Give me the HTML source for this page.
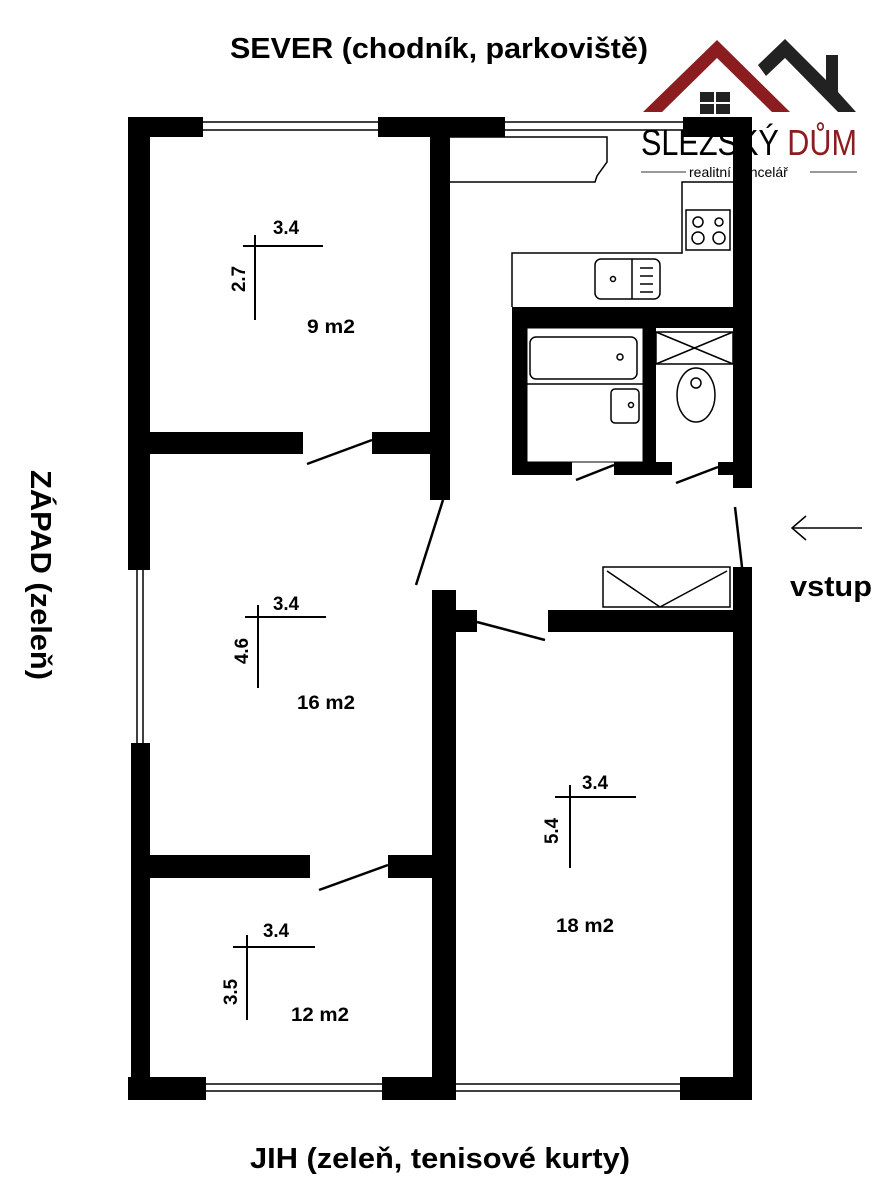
<!DOCTYPE html>
<html><head><meta charset="utf-8"><style>
html,body{margin:0;padding:0;background:#fff}
svg{display:block}
text{font-family:"Liberation Sans",sans-serif;font-weight:bold;fill:#000}
</style></head><body>
<svg width="890" height="1200" viewBox="0 0 890 1200" xmlns="http://www.w3.org/2000/svg">
<rect width="890" height="1200" fill="#fff"/>
<g fill="#000">
<rect x="128" y="117" width="75" height="20"/>
<rect x="378" y="117" width="127" height="20"/>
<rect x="683" y="117" width="69" height="20"/>
<rect x="128" y="117" width="22" height="453"/>
<rect x="131" y="743" width="19" height="357"/>
<rect x="430" y="117" width="20" height="383"/>
<rect x="150" y="432" width="153" height="22"/>
<rect x="372" y="432" width="60" height="22"/>
<rect x="733" y="117" width="19" height="371"/>
<rect x="733" y="567" width="19" height="533"/>
<rect x="512" y="307" width="240" height="21"/>
<rect x="512" y="307" width="15" height="168"/>
<rect x="512" y="462" width="60" height="13"/>
<rect x="614" y="462" width="58" height="13"/>
<rect x="643" y="328" width="13" height="140"/>
<rect x="718" y="462" width="22" height="13"/>
<rect x="432" y="590" width="24" height="510"/>
<rect x="456" y="610" width="21" height="22"/>
<rect x="548" y="610" width="204" height="22"/>
<rect x="150" y="855" width="160" height="23"/>
<rect x="388" y="855" width="44" height="23"/>
<rect x="128" y="1077" width="78" height="23"/>
<rect x="382" y="1077" width="74" height="23"/>
<rect x="680" y="1077" width="72" height="23"/>
</g>
<g stroke="#000" fill="none" stroke-width="1.5">
<line x1="203" y1="122" x2="378" y2="122"/><line x1="203" y1="130" x2="378" y2="130"/>
<line x1="505" y1="122" x2="683" y2="122"/><line x1="505" y1="130" x2="683" y2="130"/>
<line x1="137" y1="570" x2="137" y2="743"/><line x1="143" y1="570" x2="143" y2="743"/>
<line x1="206" y1="1084" x2="382" y2="1084"/><line x1="206" y1="1091" x2="382" y2="1091"/>
<line x1="456" y1="1084" x2="680" y2="1084"/><line x1="456" y1="1091" x2="680" y2="1091"/>
<line x1="307" y1="464" x2="372" y2="440" stroke-width="2.5"/>
<line x1="443" y1="500" x2="416" y2="585" stroke-width="2.5"/>
<line x1="477" y1="622" x2="545" y2="640" stroke-width="2.5"/>
<line x1="319" y1="890" x2="388" y2="865" stroke-width="2.5"/>
<line x1="576" y1="480" x2="614" y2="465" stroke-width="2.5"/>
<line x1="676" y1="483" x2="718" y2="467" stroke-width="2.5"/>
<line x1="735" y1="507" x2="742" y2="567" stroke-width="2.5"/>
<path d="M450 137 H607 V162 L597 176 L595 182 H450"/>
<path d="M733 182 H682 V253 H512 V307"/>
<rect x="686" y="210" width="44" height="40"/>
<circle cx="698" cy="222" r="5"/><circle cx="698" cy="238" r="6"/>
<circle cx="719" cy="222" r="4"/><circle cx="719" cy="238" r="6"/>
<rect x="595" y="259" width="65" height="40" rx="6"/>
<line x1="632" y1="259" x2="632" y2="299"/>
<circle cx="613" cy="279" r="2.5"/>
<line x1="640" y1="268" x2="653" y2="268"/><line x1="640" y1="276" x2="653" y2="276"/><line x1="640" y1="284" x2="653" y2="284"/><line x1="640" y1="292" x2="653" y2="292"/>
<rect x="527" y="328" width="116" height="134" stroke-width="1"/>
<rect x="530" y="337" width="107" height="42" rx="6"/>
<circle cx="620" cy="357" r="3"/>
<line x1="527" y1="384" x2="643" y2="384"/>
<rect x="611" y="389" width="28" height="34" rx="4"/>
<circle cx="631" cy="405" r="2.5"/>
<rect x="656" y="332" width="77" height="32"/>
<line x1="656" y1="332" x2="733" y2="364"/><line x1="656" y1="364" x2="733" y2="332"/>
<ellipse cx="696" cy="395" rx="19" ry="27"/>
<circle cx="696" cy="383" r="5"/>
<rect x="603" y="567" width="127" height="40"/>
<line x1="607" y1="571" x2="660" y2="607"/><line x1="727" y1="571" x2="660" y2="607"/>
<g stroke-width="2">
<line x1="243" y1="246" x2="323" y2="246"/><line x1="255" y1="235" x2="255" y2="320"/>
<line x1="245" y1="617" x2="326" y2="617"/><line x1="258" y1="605" x2="258" y2="688"/>
<line x1="555" y1="797" x2="636" y2="797"/><line x1="570" y1="785" x2="570" y2="868"/>
<line x1="233" y1="947" x2="315" y2="947"/><line x1="247" y1="935" x2="247" y2="1020"/>
<line x1="792" y1="528" x2="862" y2="528" stroke-width="1.5"/>
<path d="M806 516 L792 528 L806 540" stroke-width="1.5"/>
</g>
</g>
<path d="M643 112 L717 40 L790 112 L772 112 L717 58 L662 112 Z" fill="#8b1c1f"/>
<rect x="700" y="92" width="30" height="22" fill="#222"/>
<g stroke="#fff" stroke-width="2"><line x1="715" y1="92" x2="715" y2="114"/><line x1="700" y1="103" x2="730" y2="103"/></g>
<path d="M758 65 L785 39 L826 80 L826 55 L838 55 L838 92 L856 112 L838 112 L785 58 L766 76 Z" fill="#222"/>
<text x="641" y="155" font-size="36" textLength="216" lengthAdjust="spacingAndGlyphs" style="font-weight:normal" fill="#333">SLEZSKÝ <tspan fill="#8b1c1f">DŮM</tspan></text>
<line x1="641" y1="172" x2="686" y2="172" stroke="#333"/><line x1="810" y1="172" x2="857" y2="172" stroke="#333"/>
<text x="689" y="177" font-size="14" style="font-weight:normal" fill="#333">realitní kancelář</text>
<text x="230" y="58" font-size="29" textLength="418" lengthAdjust="spacingAndGlyphs">SEVER (chodník, parkoviště)</text>
<text x="250" y="1168" font-size="29" textLength="380" lengthAdjust="spacingAndGlyphs">JIH (zeleň, tenisové kurty)</text>
<text transform="translate(31,470) rotate(90)" font-size="29" textLength="210" lengthAdjust="spacingAndGlyphs">ZÁPAD (zeleň)</text>
<text x="790" y="596" font-size="29" textLength="82" lengthAdjust="spacingAndGlyphs">vstup</text>
<g font-size="19">
<text x="273" y="234" textLength="26" lengthAdjust="spacingAndGlyphs">3.4</text><text x="307" y="333" textLength="48" lengthAdjust="spacingAndGlyphs">9 m2</text>
<text transform="translate(245,292) rotate(-90)" textLength="26" lengthAdjust="spacingAndGlyphs">2.7</text>
<text x="273" y="610" textLength="26" lengthAdjust="spacingAndGlyphs">3.4</text><text x="297" y="709" textLength="58" lengthAdjust="spacingAndGlyphs">16 m2</text>
<text transform="translate(248,664) rotate(-90)" textLength="26" lengthAdjust="spacingAndGlyphs">4.6</text>
<text x="582" y="789" textLength="26" lengthAdjust="spacingAndGlyphs">3.4</text><text x="556" y="932" textLength="58" lengthAdjust="spacingAndGlyphs">18 m2</text>
<text transform="translate(558,844) rotate(-90)" textLength="26" lengthAdjust="spacingAndGlyphs">5.4</text>
<text x="263" y="937" textLength="26" lengthAdjust="spacingAndGlyphs">3.4</text><text x="291" y="1021" textLength="58" lengthAdjust="spacingAndGlyphs">12 m2</text>
<text transform="translate(237,1005) rotate(-90)" textLength="26" lengthAdjust="spacingAndGlyphs">3.5</text>
</g>
</svg>
</body></html>
